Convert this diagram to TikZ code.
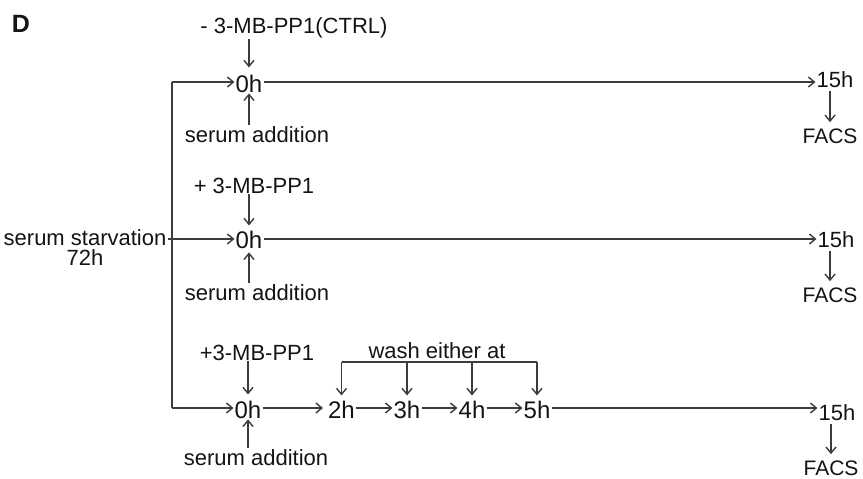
\documentclass[tikz,border=0pt]{standalone}
\usepackage{fontspec}
\setmainfont{Liberation Sans}
\usetikzlibrary{arrows.meta}
\definecolor{lc}{RGB}{60,60,60}
\definecolor{tc}{RGB}{20,20,20}
\begin{document}
\begin{tikzpicture}[x=1pt,y=1pt,
  ln/.style={draw=lc, line width=1.4pt},
  arr/.style={ln, -{Straight Barb[length=6pt,width=10pt]}},
  txt/.style={inner sep=1pt, anchor=base, text=tc},
  small/.style={txt, font=\fontsize{22}{22}\selectfont},
  big/.style={txt, font=\fontsize{24}{24}\selectfont},
  endh/.style={txt, font=\fontsize{22}{22}\selectfont},
  facs/.style={txt, font=\fontsize{21}{21}\selectfont}]
\useasboundingbox (0,0) rectangle (863,-479);
\node[txt, font=\bfseries\fontsize{25}{25}\selectfont] (D) at (21,-32) {D};
% row 1
\node[small] (ctrl) at (294,-33) {- 3-MB-PP1(CTRL)};
\node[big] (zh1) at (249,-92) {0h};
\node[small] (sa1) at (257,-142) {serum addition};
\node[endh] (fh1) at (835,-87) {15h};
\node[facs] (fc1) at (830,-143) {FACS};
% row 2
\node[small] (plus2) at (254,-193) {+ 3-MB-PP1};
\node[big] (zh2) at (249,-248) {0h};
\node[small] (sa2) at (257,-300) {serum addition};
\node[endh] (fh2) at (836,-247) {15h};
\node[facs] (fc2) at (830,-302) {FACS};
\node[small] (starv) at (85,-245) {serum starvation};
\node[small] (h72) at (85,-265) {72h};
% row 3
\node[small] (plus3) at (257,-360) {+3-MB-PP1};
\node[big] (zh3) at (248,-418) {0h};
\node[small] (sa3) at (256,-465) {serum addition};
\node[big] (h2) at (341.5,-418) {2h};
\node[big] (h3) at (407,-418) {3h};
\node[big] (h4) at (472,-418) {4h};
\node[big] (h5) at (537,-418) {5h};
\node[small] (wash) at (437,-358) {wash either at};
\node[endh] (fh3) at (837,-420) {15h};
\node[facs] (fc3) at (831,-475) {FACS};
% coordinates
\coordinate (r1) at (172,-82);
\coordinate (r2) at (172,-239);
\coordinate (r3) at (172,-408);
\coordinate (bar) at (437,-362);
% trunk
\draw[ln] (r1) -- (r3);
\draw[ln] (starv.east |- r2) -- (r2);
\draw[arr] (r1) -- (r1 -| zh1.west);
\draw[arr] (r2) -- (r2 -| zh2.west);
\draw[arr] (r3) -- (r3 -| zh3.west);
% timelines
\draw[arr] (zh1.east |- r1) -- (r1 -| fh1.west);
\draw[arr] (zh2.east |- r2) -- (r2 -| fh2.west);
\draw[arr] (zh3.east |- r3) -- ([xshift=-4pt]h2.west |- r3);
\draw[arr] (h2.east |- r3) -- (h3.west |- r3);
\draw[arr] (h3.east |- r3) -- (h4.west |- r3);
\draw[arr] (h4.east |- r3) -- (h5.west |- r3);
\draw[arr] (h5.east |- r3) -- (fh3.west |- r3);
% drug arrows
\draw[arr] (ctrl.south -| zh1.north) -- ([yshift=6pt]zh1.north);
\draw[arr] (plus2.south -| zh2.north) -- ([yshift=4pt]zh2.north);
\draw[arr] (plus3.south -| zh3.north) -- ([yshift=5pt]zh3.north);
% serum arrows
\draw[arr] (sa1.north -| zh1.south) -- (zh1.south);
\draw[arr] (sa2.north -| zh2.south) -- ([yshift=-3pt]zh2.south);
\draw[arr] (sa3.north -| zh3.south) -- (zh3.south);
% FACS arrows
\draw[arr] ([yshift=-3pt]fh1.south -| fc1.north) -- ([yshift=5pt]fc1.north);
\draw[arr] ([yshift=-3pt]fh2.south -| fc2.north) -- ([yshift=5pt]fc2.north);
\draw[arr] ([yshift=-3pt]fh3.south -| fc3.north) -- ([yshift=5pt]fc3.north);
% wash bracket
\draw[ln] (bar -| h2) -- (bar -| h5);
\draw[arr] (bar -| h2) -- ([yshift=4pt]h2.north);
\draw[arr] (bar -| h3) -- ([yshift=4pt]h3.north);
\draw[arr] (bar -| h4) -- ([yshift=4pt]h4.north);
\draw[arr] (bar -| h5) -- ([yshift=4pt]h5.north);
\end{tikzpicture}
\end{document}
